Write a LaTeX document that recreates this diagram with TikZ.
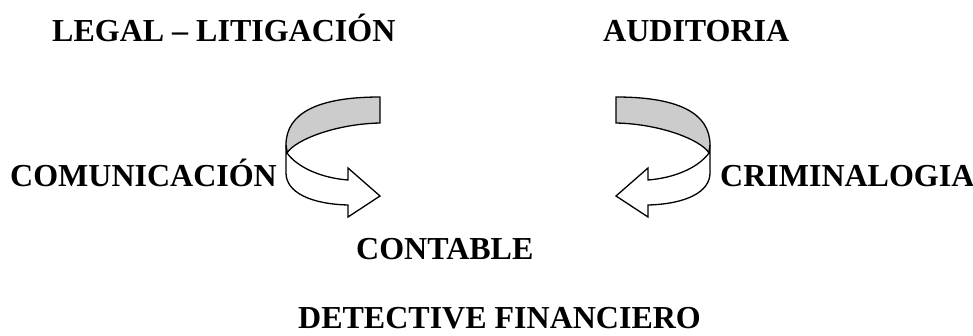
\documentclass[tikz,border=0pt]{standalone}
\usepackage{fontspec}
\setmainfont{Liberation Serif}
\begin{document}
\begin{tikzpicture}[x=1pt,y=-1pt,
  lbl/.style={anchor=base west,inner sep=0pt,font=\fontsize{32}{38}\selectfont\bfseries},
  band/.style={draw=black,line width=1.3pt,line join=miter,fill=black!20},
  front/.style={draw=black,line width=1.3pt,line join=miter,fill=white}]
\useasboundingbox (0,0) rectangle (973,336);
\node[lbl] (legal) at (52,42) {LEGAL – LITIGACIÓN};
\node[lbl] (audit) at (603,42) {AUDITORIA};
\node[lbl] (comun) at (10,187) {COMUNICACIÓN};
\node[lbl] (crim) at (720,187) {CRIMINALOGIA};
\node[lbl] (cont) at (356,260) {CONTABLE};
\node[lbl] (detec) at (298,328) {DETECTIVE FINANCIERO};
% left curved arrow
\begin{scope}
\path[band] (380,97) .. controls (318,97) and (286,113) .. (286,145) -- (287,153) .. controls (295,140) and (335,124) .. (380,123) -- cycle;
\path[front] (287,153) .. controls (298,168) and (322,178) .. (348,180) -- (348,168) -- (380,196) -- (348,217) -- (348,205) .. controls (310,204) and (286,192) .. (286,173) -- (286,145) -- cycle;
\end{scope}
% right curved arrow (mirror)
\begin{scope}[xshift=996pt,xscale=-1]
\path[band] (380,97) .. controls (318,97) and (286,113) .. (286,145) -- (287,153) .. controls (295,140) and (335,124) .. (380,123) -- cycle;
\path[front] (287,153) .. controls (298,168) and (322,178) .. (348,180) -- (348,168) -- (380,196) -- (348,217) -- (348,205) .. controls (310,204) and (286,192) .. (286,173) -- (286,145) -- cycle;
\end{scope}
\end{tikzpicture}
\end{document}
